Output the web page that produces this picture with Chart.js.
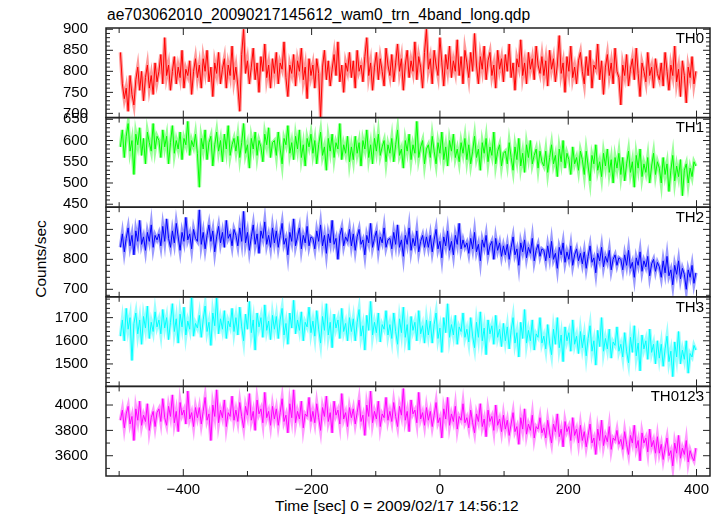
<!DOCTYPE html>
<html>
<head>
<meta charset="utf-8">
<script src="https://cdn.jsdelivr.net/npm/chart.js@4"></script>
<style>
  body { margin: 0; background: #fff; }
  #wrap { position: relative; width: 722px; height: 516px; font-family: "Liberation Sans", Arial, sans-serif; color: #000; }
  #wrap canvas { position: absolute; left: 0; top: 0; }
  .txt { position: absolute; white-space: nowrap; line-height: 18px; }
</style>
</head>
<body>
<div id="wrap">
  <div class="txt" style="left:107px;top:6px;font-size:15.6px">ae703062010_20090217145612_wam0_trn_4band_long.qdp</div>
  <div class="txt" style="left:275px;top:497px;font-size:15.5px">Time [sec] 0 = 2009/02/17 14:56:12</div>
  <div class="txt" style="left:41px;top:259px;font-size:15.5px;transform:translate(-50%,-50%) rotate(-90deg)">Counts/sec</div>
  <canvas id="c0" width="722" height="516"></canvas>
  <canvas id="c1" width="722" height="516"></canvas>
  <canvas id="c2" width="722" height="516"></canvas>
  <canvas id="c3" width="722" height="516"></canvas>
  <canvas id="c4" width="722" height="516"></canvas>
</div>
<script>
// time bins (sec from 2009/02/17 14:56:12), one sample every 3 s
const tStart = -498, tStep = 3;

// count rates, 20 samples (60 s) per row
const th0 = [
  845, 770, 735, 760, 705, 790, 745, 720, 780, 810, 755, 800, 730, 785, 815, 760, 790, 745, 820, 775,
  800, 840, 770, 880, 790, 815, 755, 800, 835, 770, 810, 785, 850, 760, 805, 790, 825, 745, 800, 830,
  785, 815, 760, 830, 800, 850, 775, 810, 740, 820, 795, 845, 770, 805, 830, 760, 815, 790, 860, 780,
  810, 765, 705, 840, 900, 795, 825, 770, 810, 855, 780, 820, 750, 835, 800, 865, 785, 815, 760, 830,
  795, 845, 770, 820, 805, 870, 785, 740, 815, 795, 840, 765, 825, 800, 855, 780, 810, 735, 830, 790,
  815, 760, 830, 795, 690, 810, 850, 780, 825, 765, 805, 840, 790, 870, 775, 815, 750, 820, 800, 845,
  785, 825, 760, 850, 800, 815, 775, 835, 880, 790, 820, 755, 810, 845, 780, 830, 800, 765, 855, 815,
  790, 840, 775, 820, 865, 800, 830, 755, 815, 850, 785, 825, 800, 870, 780, 835, 810, 760, 845, 900,
  805, 830, 770, 850, 815, 790, 880, 820, 765, 840, 805, 860, 785, 825, 800, 875, 790, 835, 770, 850,
  820, 785, 845, 800, 890, 815, 770, 835, 805, 860, 780, 825, 845, 790, 815, 760, 850, 805, 830, 775,
  840, 800, 865, 785, 820, 755, 830, 810, 875, 790, 820, 770, 845, 805, 830, 780, 860, 815, 795, 835,
  790, 825, 765, 850, 805, 830, 775, 815, 885, 795, 820, 750, 835, 800, 860, 785, 810, 770, 825, 845,
  800, 770, 835, 790, 850, 760, 815, 805, 865, 780, 825, 745, 810, 840, 790, 820, 770, 855, 800, 785,
  720, 815, 790, 840, 765, 805, 830, 780, 855, 795, 740, 820, 800, 775, 845, 790, 810, 760, 830, 795,
  780, 820, 765, 845, 800, 755, 815, 790, 860, 775, 805, 740, 825, 790, 725, 810, 785, 835, 770, 800
];
const th1 = [
  585, 625, 560, 610, 640, 575, 600, 520, 615, 590, 630, 565, 605, 545, 620, 595, 575, 640, 580, 610,
  600, 560, 625, 585, 610, 545, 595, 635, 570, 600, 580, 620, 555, 605, 590, 645, 565, 600, 585, 615,
  570, 490, 605, 580, 625, 555, 595, 610, 540, 590, 620, 575, 600, 550, 615, 580, 635, 565, 590, 605,
  575, 610, 560, 595, 640, 570, 590, 535, 605, 580, 620, 565, 600, 585, 550, 615, 590, 630, 560, 595,
  600, 565, 620, 580, 545, 605, 590, 635, 570, 595, 555, 610, 580, 625, 560, 590, 540, 605, 585, 615,
  570, 600, 545, 590, 620, 565, 585, 530, 605, 575, 615, 560, 595, 580, 640, 555, 590, 570, 610, 550,
  585, 555, 610, 570, 595, 540, 600, 580, 625, 560, 590, 545, 605, 575, 615, 565, 585, 600, 550, 590,
  570, 605, 550, 590, 625, 565, 580, 535, 600, 575, 615, 555, 590, 570, 645, 560, 585, 600, 545, 580,
  590, 560, 610, 575, 545, 595, 570, 620, 555, 585, 540, 600, 575, 615, 560, 580, 550, 595, 570, 605,
  555, 590, 545, 575, 610, 560, 580, 530, 595, 570, 605, 550, 585, 565, 620, 545, 575, 590, 540, 570,
  575, 545, 595, 560, 530, 585, 555, 605, 540, 570, 525, 590, 560, 600, 545, 565, 580, 535, 575, 550,
  540, 575, 525, 560, 590, 545, 565, 515, 580, 550, 600, 535, 570, 555, 520, 585, 545, 560, 530, 575,
  555, 520, 575, 540, 505, 565, 545, 590, 530, 550, 515, 570, 540, 580, 525, 555, 500, 560, 535, 570,
  520, 560, 505, 545, 575, 525, 550, 490, 565, 535, 580, 515, 545, 525, 560, 500, 540, 570, 520, 550,
  535, 500, 560, 520, 545, 480, 530, 565, 505, 540, 515, 555, 470, 530, 545, 500, 535, 515, 550, 540
];
const th2 = [
  840, 885, 825, 870, 905, 845, 880, 815, 895, 860, 930, 850, 875, 830, 890, 860, 915, 840, 880, 865,
  885, 845, 910, 860, 935, 870, 840, 895, 855, 920, 875, 830, 890, 860, 940, 865, 885, 835, 900, 870,
  860, 965, 850, 890, 835, 880, 915, 860, 895, 825, 875, 910, 855, 890, 840, 930, 870, 885, 845, 900,
  880, 845, 905, 860, 960, 855, 890, 830, 875, 915, 850, 885, 820, 895, 870, 925, 850, 880, 840, 905,
  855, 895, 840, 880, 920, 850, 870, 815, 890, 860, 935, 845, 875, 905, 835, 880, 855, 910, 845, 875,
  870, 835, 895, 860, 915, 845, 880, 820, 885, 855, 930, 850, 870, 800, 880, 905, 845, 875, 860, 900,
  845, 885, 830, 875, 900, 850, 865, 815, 880, 855, 920, 840, 870, 895, 830, 875, 855, 905, 840, 865,
  870, 835, 890, 850, 915, 840, 865, 810, 880, 850, 905, 830, 870, 845, 895, 825, 860, 880, 840, 875,
  840, 880, 825, 865, 900, 835, 860, 805, 875, 845, 895, 830, 860, 815, 880, 850, 920, 835, 865, 840,
  855, 820, 870, 835, 890, 825, 850, 795, 865, 840, 880, 815, 845, 860, 800, 870, 830, 855, 810, 845,
  815, 850, 800, 840, 875, 815, 835, 780, 855, 825, 865, 805, 840, 820, 870, 795, 830, 850, 810, 835,
  830, 795, 845, 805, 860, 800, 820, 770, 840, 815, 855, 790, 825, 800, 845, 780, 815, 835, 795, 820,
  785, 825, 770, 810, 845, 790, 805, 755, 820, 795, 840, 775, 810, 790, 830, 765, 800, 815, 780, 805,
  800, 765, 815, 780, 830, 770, 790, 740, 805, 780, 825, 760, 795, 775, 810, 745, 785, 800, 760, 790,
  775, 740, 795, 755, 810, 745, 765, 715, 780, 750, 795, 735, 770, 750, 700, 765, 740, 780, 720, 755
];
const th3 = [
  1620, 1690, 1600, 1740, 1650, 1700, 1515, 1675, 1720, 1630, 1690, 1585, 1705, 1655, 1750, 1610, 1680, 1640, 1725, 1660,
  1690, 1630, 1735, 1655, 1700, 1605, 1680, 1760, 1640, 1695, 1590, 1715, 1660, 1745, 1625, 1685, 1650, 1790, 1620, 1675,
  1655, 1710, 1615, 1690, 1750, 1640, 1680, 1580, 1720, 1665, 1785, 1630, 1695, 1650, 1730, 1610, 1685, 1660, 1740, 1640,
  1700, 1625, 1745, 1660, 1600, 1715, 1650, 1770, 1635, 1690, 1560, 1720, 1660, 1700, 1615, 1755, 1645, 1685, 1605, 1710,
  1650, 1705, 1610, 1690, 1740, 1625, 1675, 1585, 1720, 1655, 1775, 1630, 1690, 1645, 1725, 1600, 1680, 1660, 1745, 1635,
  1685, 1620, 1730, 1650, 1590, 1705, 1645, 1760, 1625, 1680, 1570, 1715, 1655, 1690, 1610, 1740, 1640, 1675, 1600, 1700,
  1640, 1695, 1600, 1680, 1735, 1620, 1665, 1560, 1710, 1645, 1770, 1625, 1680, 1635, 1720, 1595, 1670, 1650, 1730, 1625,
  1670, 1610, 1720, 1640, 1585, 1695, 1635, 1745, 1615, 1670, 1560, 1705, 1645, 1680, 1600, 1730, 1630, 1665, 1590, 1690,
  1625, 1685, 1590, 1670, 1720, 1610, 1655, 1550, 1700, 1635, 1760, 1615, 1670, 1625, 1710, 1585, 1660, 1640, 1720, 1615,
  1650, 1595, 1700, 1620, 1570, 1680, 1615, 1725, 1600, 1655, 1540, 1690, 1630, 1665, 1585, 1710, 1615, 1650, 1575, 1675,
  1600, 1660, 1565, 1645, 1700, 1590, 1635, 1530, 1680, 1610, 1735, 1590, 1645, 1600, 1690, 1560, 1630, 1615, 1700, 1590,
  1620, 1565, 1670, 1590, 1540, 1650, 1585, 1700, 1570, 1625, 1510, 1660, 1600, 1635, 1555, 1690, 1585, 1620, 1545, 1640,
  1570, 1625, 1535, 1610, 1665, 1555, 1600, 1495, 1645, 1575, 1700, 1555, 1610, 1565, 1650, 1525, 1595, 1580, 1660, 1555,
  1585, 1530, 1635, 1555, 1505, 1615, 1550, 1665, 1535, 1590, 1470, 1625, 1565, 1600, 1520, 1650, 1550, 1585, 1500, 1600,
  1525, 1585, 1490, 1565, 1620, 1510, 1555, 1445, 1595, 1530, 1640, 1500, 1560, 1520, 1600, 1460, 1545, 1530, 1580, 1560
];
const th0123 = [
  3880, 3960, 3820, 3930, 3990, 3850, 3910, 3720, 3970, 3880, 4030, 3840, 3920, 3870, 4010, 3800, 3900, 3950, 3830, 3940,
  3970, 3870, 4050, 3900, 3840, 3990, 3910, 4080, 3860, 3950, 3790, 4020, 3920, 3960, 3850, 4110, 3890, 3940, 3830, 3980,
  3900, 3980, 3850, 3950, 4060, 3880, 3930, 3720, 4000, 3910, 4120, 3860, 3960, 3900, 4040, 3830, 3940, 3910, 4070, 3880,
  3960, 3870, 4020, 3910, 3820, 3990, 3920, 4090, 3880, 3950, 3800, 4040, 3930, 3970, 3860, 4100, 3900, 3950, 3840, 3990,
  3890, 3970, 3840, 3940, 4050, 3870, 3920, 3780, 4010, 3900, 4120, 3860, 3950, 3890, 4030, 3820, 3930, 3910, 4060, 3870,
  3950, 3860, 4010, 3900, 3800, 3980, 3910, 4070, 3870, 3940, 3780, 4030, 3920, 3960, 3850, 4090, 3890, 3940, 3830, 3980,
  3900, 3970, 3850, 3940, 4040, 3870, 3920, 3760, 4000, 3910, 4110, 3860, 3950, 3890, 4030, 3830, 3930, 3900, 4060, 3880,
  3950, 3870, 4020, 3910, 3830, 3990, 3920, 4130, 3880, 3950, 3790, 4040, 3930, 3960, 3860, 4100, 3890, 3940, 3840, 3980,
  3880, 3950, 3830, 3920, 4020, 3860, 3900, 3740, 3970, 3890, 4060, 3840, 3930, 3870, 3990, 3810, 3910, 3880, 4010, 3860,
  3900, 3820, 3960, 3860, 3780, 3930, 3870, 4010, 3830, 3890, 3750, 3960, 3870, 3910, 3800, 4000, 3840, 3890, 3790, 3920,
  3810, 3880, 3760, 3850, 3940, 3790, 3830, 3690, 3900, 3810, 3970, 3770, 3850, 3800, 3920, 3740, 3830, 3810, 3900, 3780,
  3820, 3740, 3880, 3780, 3700, 3850, 3790, 3930, 3750, 3810, 3670, 3870, 3790, 3830, 3720, 3900, 3760, 3810, 3700, 3840,
  3720, 3790, 3670, 3760, 3850, 3700, 3740, 3610, 3810, 3720, 3880, 3680, 3760, 3710, 3830, 3650, 3740, 3720, 3800, 3690,
  3730, 3650, 3790, 3690, 3610, 3760, 3700, 3840, 3660, 3720, 3560, 3780, 3700, 3740, 3630, 3810, 3670, 3720, 3620, 3750,
  3620, 3690, 3570, 3660, 3740, 3600, 3640, 3520, 3700, 3620, 3760, 3580, 3660, 3610, 3720, 3550, 3640, 3590, 3560, 3660
];

const bandNames = ['TH0', 'TH1', 'TH2', 'TH3', 'TH0123'];
const series = [th0, th1, th2, th3, th0123];
const yRanges = [[690, 903], [443, 654], [675, 974], [1403, 1790], [3440, 4147]];
const yLabels = [[700, 750, 800, 850, 900], [450, 500, 550, 600, 650], [700, 800, 900], [1500, 1600, 1700], [3600, 3800, 4000]];
const yMinor = [10, 10, 20, 20, 100];
const xLabels = [-400, -200, 0, 200, 400];
const xMinor = 100;

const colors = ['#ff0000', '#00ff00', '#0000ff', '#00ffff', '#ff00ff'];
const halos = ['rgba(255,0,0,0.4)', 'rgba(0,255,0,0.4)', 'rgba(0,0,255,0.4)', 'rgba(0,255,255,0.4)', 'rgba(255,0,255,0.4)'];

const font = { family: '"Liberation Sans", Arial, sans-serif', size: 15 };
const minus = v => (v < 0 ? '\u2212' + Math.abs(v) : String(v));

// frame with inward ticks on all four sides, plus the band name
const framePlugin = {
  id: 'frame',
  afterDatasetsDraw(chart, args, o) {
    const { ctx, chartArea: a, scales: { x, y } } = chart;
    ctx.save();
    ctx.strokeStyle = '#222';
    ctx.lineWidth = 1;
    ctx.beginPath();
    for (let v = Math.ceil(y.min / o.minor) * o.minor; v <= y.max; v += o.minor) {
      const py = y.getPixelForValue(v);
      const len = o.major.includes(v) ? 7 : 4;
      ctx.moveTo(a.left, py); ctx.lineTo(a.left + len, py);
      ctx.moveTo(a.right, py); ctx.lineTo(a.right - len, py);
    }
    for (let v = Math.ceil(x.min / xMinor) * xMinor; v <= x.max; v += xMinor) {
      const px = x.getPixelForValue(v);
      const len = xLabels.includes(v) ? 7 : 5;
      ctx.moveTo(px, a.top); ctx.lineTo(px, a.top + len);
      ctx.moveTo(px, a.bottom); ctx.lineTo(px, a.bottom - len);
    }
    ctx.stroke();
    ctx.lineWidth = 1.5;
    ctx.strokeRect(a.left, a.top, a.width, a.height);
    ctx.fillStyle = '#000';
    ctx.font = '15px "Liberation Sans", Arial, sans-serif';
    ctx.textAlign = 'right';
    ctx.textBaseline = 'alphabetic';
    ctx.fillText(o.name, a.right - 6, a.top + 14.7);
    ctx.restore();
  }
};

const panelH = 89.6;
series.forEach((vals, i) => {
  const top = 28 + panelH * i;
  const bottom = top + panelH;
  const last = i === series.length - 1;
  const pts = vals.map((v, k) => ({ x: tStart + k * tStep, y: v }));

  new Chart(document.getElementById('c' + i), {
    type: 'line',
    data: {
      datasets: [
        { data: pts, borderColor: colors[i], borderWidth: 1, pointRadius: 0, tension: 0, order: 0 },
        { data: pts, borderColor: halos[i], borderWidth: 3.5, pointRadius: 0, tension: 0, order: 1 }
      ]
    },
    options: {
      responsive: false,
      animation: false,
      events: [],
      layout: { padding: { left: 0, right: 12, top: top, bottom: last ? 0 : 516 - bottom } },
      plugins: {
        legend: { display: false },
        tooltip: { enabled: false },
        frame: { name: bandNames[i], major: yLabels[i], minor: yMinor[i] }
      },
      scales: {
        x: {
          type: 'linear',
          min: -520.5,
          max: 421,
          display: last,
          grid: { display: false },
          border: { display: false },
          afterFit: s => { s.height = last ? 40 : 0; },
          afterBuildTicks: s => { s.ticks = xLabels.map(v => ({ value: v })); },
          ticks: { font: font, color: '#000', padding: -3, maxRotation: 0, autoSkip: false, callback: v => minus(v) }
        },
        y: {
          type: 'linear',
          min: yRanges[i][0],
          max: yRanges[i][1],
          grid: { display: false },
          border: { display: false },
          afterFit: s => { s.width = 106; },
          afterBuildTicks: s => { s.ticks = yLabels[i].map(v => ({ value: v })); },
          ticks: { font: font, color: '#000', padding: 10, autoSkip: false, callback: v => String(v) }
        }
      }
    },
    plugins: [framePlugin]
  });
});
</script>
</body>
</html>
